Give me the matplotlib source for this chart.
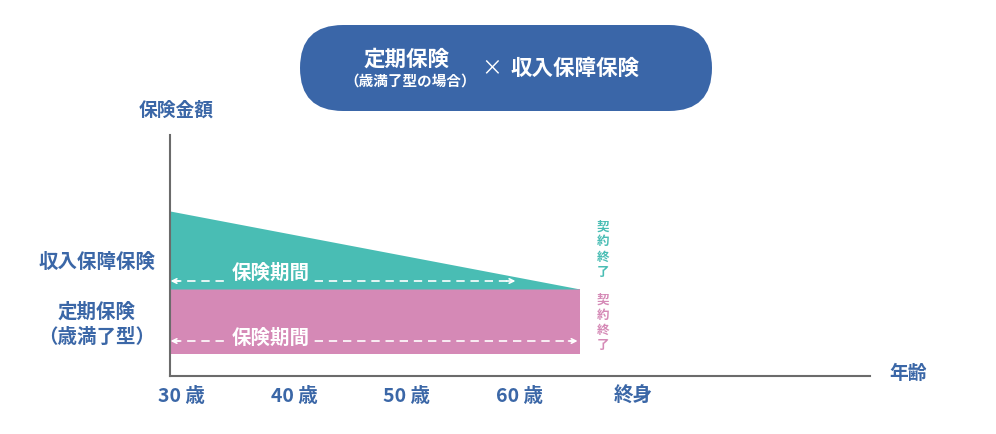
import matplotlib.pyplot as plt
from matplotlib.patches import FancyBboxPatch

plt.rcParams['font.family'] = ['Noto Sans CJK JP', 'DejaVu Sans']

# データ
tick_ages = [30, 40, 50, 60, 70]
tick_labels = ['30 歳', '40 歳', '50 歳', '60 歳', '終身']
start_age = 29.03
end_age = 65.3          # 契約終了
term_base = 22          # 定期保険の下端
term_top = 87           # 定期保険の上端 (保険金額)
income_start = 165      # 収入保障保険 (30歳時)
income_end = 87         # 収入保障保険 (終了時)
arrow_teal = (59.6, 95)
arrow_pink = (65.1, 35)

BLUE = '#3b67a7'
TEAL = '#49bdb4'
PINK = '#d589b6'
GREY = '#6b6b6b'

fig = plt.figure(figsize=(9.96, 4.34), dpi=100)
ax = fig.add_axes([170/996, 1-376/434, 700/996, 241/434])
ax.set_xlim(start_age, start_age + 700/11.3)
ax.set_ylim(0, 241)

ax.fill_between([start_age, end_age], [term_base, term_base], [term_top, term_top],
                color=PINK, lw=0)
ax.fill_between([start_age, end_age], [term_top, term_top], [income_start, income_end],
                color=TEAL, lw=0)

for (xe, y), col in [(arrow_teal, TEAL), (arrow_pink, PINK)]:
    ax.plot([start_age + 0.3, xe - 0.3], [y, y], color='white', lw=1.2,
            dashes=(5, 3.5))
    ax.annotate('', xy=(start_age + 0.05, y), xytext=(start_age + 0.8, y),
                arrowprops=dict(arrowstyle='->', color='white', lw=1.2,
                                mutation_scale=8, shrinkA=0, shrinkB=0))
    ax.annotate('', xy=(xe, y), xytext=(xe - 0.8, y),
                arrowprops=dict(arrowstyle='->', color='white', lw=1.2,
                                mutation_scale=8, shrinkA=0, shrinkB=0))
    ax.text(37.9, y + 8 if col == TEAL else y + 3, '保険期間', color='white',
            fontsize=14, fontweight='bold', ha='center', va='center',
            bbox=dict(boxstyle='square,pad=0.15', fc=col, ec='none'))

for s in ['top', 'right']:
    ax.spines[s].set_visible(False)
for s in ['left', 'bottom']:
    ax.spines[s].set_color(GREY)
    ax.spines[s].set_linewidth(1.5)
ax.set_xticks(tick_ages)
ax.set_xticklabels(tick_labels, color=BLUE, fontsize=14, fontweight='bold')
ax.tick_params(axis='x', length=0, pad=8)
ax.set_yticks([])

# 注記用の重ね合わせ (ピクセル座標)
ov = fig.add_axes([0, 0, 1, 1])
ov.set_xlim(0, 996)
ov.set_ylim(434, 0)
ov.axis('off')
ov.patch.set_alpha(0)

ov.add_patch(FancyBboxPatch((300, 25), 412, 86,
                            boxstyle='round,pad=0,rounding_size=43',
                            fc='#3a66a8', ec='none'))
ov.text(407, 59, '定期保険', color='white', fontsize=15.5, fontweight='bold',
        ha='center', va='center')
ov.text(410, 81, '（歳満了型の場合）', color='white', fontsize=10.5,
        fontweight='bold', ha='center', va='center')
ov.text(492, 68, '×', color='white', fontsize=15, ha='center', va='center')
ov.text(575, 68, '収入保障保険', color='white', fontsize=15.5, fontweight='bold',
        ha='center', va='center')

ov.text(176, 110, '保険金額', color=BLUE, fontsize=13.5, fontweight='bold',
        ha='center', va='center')
ov.text(908, 373, '年齢', color=BLUE, fontsize=13.5, fontweight='bold',
        ha='center', va='center')
ov.text(97, 262, '収入保障保険', color=BLUE, fontsize=14, fontweight='bold',
        ha='center', va='center')
ov.text(97, 312, '定期保険', color=BLUE, fontsize=14, fontweight='bold',
        ha='center', va='center')
ov.text(97, 337, '（歳満了型）', color=BLUE, fontsize=14, fontweight='bold',
        ha='center', va='center')

for i, ch in enumerate('契約終了'):
    ov.text(603, 227 + i*15, ch, color=TEAL, fontsize=9, fontweight='bold',
            ha='center', va='center')
    ov.text(603, 300 + i*15, ch, color=PINK, fontsize=9, fontweight='bold',
            ha='center', va='center')

fig.savefig('out.png', dpi=100)
